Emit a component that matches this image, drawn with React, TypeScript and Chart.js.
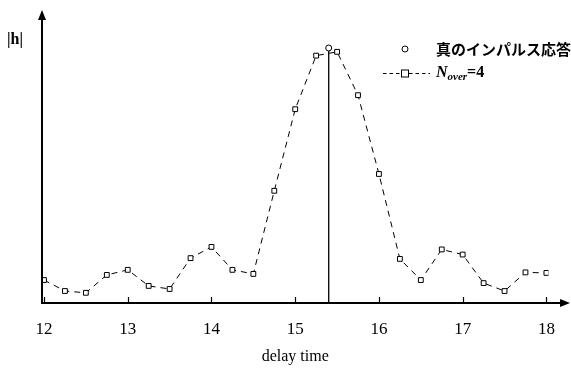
import React, { useEffect, useRef } from "react";
import { Chart, registerables } from "chart.js";

Chart.register(...registerables);

const delayTimes = [12, 12.25, 12.5, 12.75, 13, 13.25, 13.5, 13.75, 14, 14.25, 14.5, 14.75, 15, 15.25, 15.5, 15.75, 16, 16.25, 16.5, 16.75, 17, 17.25, 17.5, 17.75, 18];
const nOverValues = [0.09, 0.047, 0.04, 0.11, 0.13, 0.067, 0.055, 0.176, 0.22, 0.13, 0.114, 0.44, 0.76, 0.97, 0.985, 0.815, 0.506, 0.173, 0.09, 0.21, 0.19, 0.078, 0.047, 0.12, 0.118];
const truePeakX = [15.4];
const truePeakY = [1.0];
const xTickValues = [12, 13, 14, 15, 16, 17, 18];
const xMin = 11.976;
const xMax = 18.024;
const yMin = 0;
const yMax = 1.149;

const legendLabels = ["真のインパルス応答", "N", "over", "=4"];

const axesPlugin = {
  id: "axesArrows",
  afterDatasetsDraw(chart: any) {
    const { ctx, chartArea } = chart;
    const xs = chart.scales.x;
    const left = chartArea.left;
    const bottom = chartArea.bottom;
    const top = chartArea.top;
    const arrowRight = 570;
    ctx.save();
    ctx.strokeStyle = "#000";
    ctx.fillStyle = "#000";
    ctx.lineWidth = 2;
    // y axis
    ctx.beginPath();
    ctx.moveTo(left, bottom + 1);
    ctx.lineTo(left, top + 6);
    ctx.stroke();
    ctx.beginPath();
    ctx.moveTo(left, top);
    ctx.lineTo(left - 4, top + 10);
    ctx.lineTo(left + 4, top + 10);
    ctx.closePath();
    ctx.fill();
    // x axis
    ctx.beginPath();
    ctx.moveTo(left - 1, bottom);
    ctx.lineTo(arrowRight - 6, bottom);
    ctx.stroke();
    ctx.beginPath();
    ctx.moveTo(arrowRight, bottom);
    ctx.lineTo(arrowRight - 10, bottom - 4);
    ctx.lineTo(arrowRight - 10, bottom + 4);
    ctx.closePath();
    ctx.fill();
    // ticks upward
    ctx.lineWidth = 1.2;
    xTickValues.forEach((v) => {
      const px = Math.round(xs.getPixelForValue(v)) + 0.5;
      ctx.beginPath();
      ctx.moveTo(px, bottom);
      ctx.lineTo(px, bottom - 6);
      ctx.stroke();
    });
    // y label
    ctx.font = "bold 16px 'Liberation Serif'";
    ctx.textAlign = "center";
    ctx.textBaseline = "middle";
    ctx.fillText("|h|", 15, 40);

    // legend
    const lx = 405;
    const row1 = 49;
    const row2 = 73;
    ctx.lineWidth = 1;
    ctx.beginPath();
    ctx.arc(lx, row1, 3, 0, Math.PI * 2);
    ctx.fillStyle = "#fff";
    ctx.fill();
    ctx.stroke();
    ctx.setLineDash([3.5, 3]);
    ctx.beginPath();
    ctx.moveTo(383, row2 + 0.5);
    ctx.lineTo(430, row2 + 0.5);
    ctx.stroke();
    ctx.setLineDash([]);
    ctx.fillStyle = "#fff";
    ctx.fillRect(lx - 3.5, row2 - 3, 7, 7);
    ctx.strokeRect(lx - 3.5, row2 - 3, 7, 7);
    ctx.fillStyle = "#000";
    ctx.textAlign = "left";
    ctx.font = "bold 15px 'Noto Sans CJK JP'";
    ctx.fillText(legendLabels[0], 436, row1);
    ctx.font = "italic bold 16px 'Liberation Serif'";
    ctx.fillText(legendLabels[1], 436, row2);
    const nW = ctx.measureText(legendLabels[1]).width;
    ctx.font = "italic bold 11px 'Liberation Serif'";
    ctx.fillText(legendLabels[2], 436 + nW, row2 + 4);
    const oW = ctx.measureText(legendLabels[2]).width;
    ctx.font = "bold 16px 'Liberation Serif'";
    ctx.fillText(legendLabels[3], 436 + nW + oW, row2);
    ctx.restore();
  },
};

export default function App() {
  const ref = useRef<HTMLCanvasElement | null>(null);
  useEffect(() => {
    if (!ref.current) return;
    const chart = new Chart(ref.current, {
      type: "line",
      data: {
        datasets: [
          {
            label: "N_over=4",
            data: delayTimes.map((x, i) => ({ x, y: nOverValues[i] })),
            borderColor: "#000",
            borderWidth: 1,
            borderDash: [6, 5],
            pointStyle: "rect",
            pointRadius: 3.4,
            pointBackgroundColor: "#fff",
            pointBorderColor: "#000",
            pointBorderWidth: 1,
            tension: 0,
            order: 3,
          },
          {
            label: "peak line",
            data: [
              { x: truePeakX[0], y: yMin },
              { x: truePeakX[0], y: truePeakY[0] },
            ],
            borderColor: "#000",
            borderWidth: 1.3,
            pointRadius: 0,
            order: 2,
          },
          {
            label: "真のインパルス応答",
            data: truePeakX.map((x, i) => ({ x, y: truePeakY[i] })),
            showLine: false,
            pointStyle: "circle",
            pointRadius: 3,
            pointBackgroundColor: "#fff",
            pointBorderColor: "#000",
            pointBorderWidth: 1,
            order: 1,
          },
        ],
      },
      options: {
        animation: false,
        responsive: false,
        maintainAspectRatio: false,
        layout: { padding: { left: 42, right: 21, top: 10, bottom: 0 } },
        plugins: { legend: { display: false }, tooltip: { enabled: false } },
        scales: {
          x: {
            type: "linear",
            min: xMin,
            max: xMax,
            afterBuildTicks: (scale: any) => {
              scale.ticks = xTickValues.map((v) => ({ value: v }));
            },
            afterFit: (scale: any) => {
              scale.height = 65;
            },
            grid: { display: false, drawTicks: false },
            border: { display: false },
            ticks: {
              color: "#000",
              padding: 16,
              font: { family: "'Liberation Serif'", size: 17 },
              maxRotation: 0,
              autoSkip: false,
            },
            title: {
              display: true,
              text: "delay time",
              color: "#000",
              font: { family: "'Liberation Serif'", size: 16 },
              padding: { top: 2, bottom: 1.5 },
            },
          },
          y: { display: false, min: yMin, max: yMax },
        },
      },
      plugins: [axesPlugin],
    });
    return () => chart.destroy();
  }, []);
  return (
    <div style={{ position: "fixed", left: 0, top: 0, width: 571, height: 368, background: "#fff" }}>
      <canvas ref={ref} width={571} height={368} style={{ width: 571, height: 368 }} />
    </div>
  );
}
